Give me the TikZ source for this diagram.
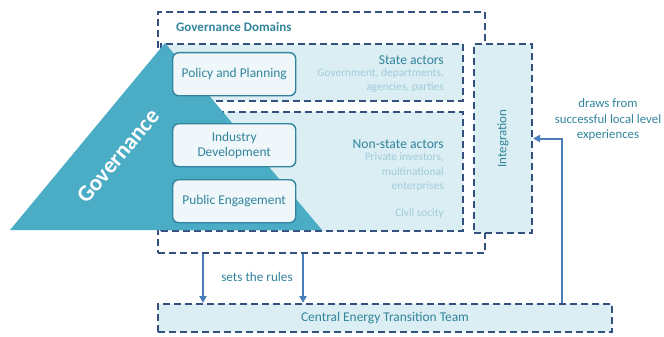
\documentclass[tikz,border=0pt]{standalone}
\usepackage{fontspec}
\setmainfont{Carlito}
\usetikzlibrary{arrows.meta}
\definecolor{dashcol}{HTML}{34507F}
\definecolor{lightfill}{HTML}{DAEEF3}
\definecolor{tealfill}{HTML}{4BACC6}
\definecolor{darkteal}{HTML}{31849B}
\definecolor{lighttext}{HTML}{A3CBDA}
\definecolor{arrblue}{HTML}{4A7EBB}
\definecolor{boxfill}{HTML}{EFF7FA}
\tikzset{
  dbox/.style={draw=dashcol, line width=2pt, dash pattern=on 7pt off 4pt, anchor=north west, inner sep=0pt},
  rbox/.style={draw=darkteal, line width=1.4pt, fill=boxfill, rounded corners=6pt, anchor=north west,
     minimum width=123pt, minimum height=43pt, inner sep=0pt, align=center, text=darkteal, font=\fontsize{13.4}{15}\selectfont},
  arr/.style={draw=arrblue, line width=2pt, -{Triangle[length=7pt,width=7pt]}},
  ttl/.style={text=darkteal, font=\fontsize{13.6}{15}\selectfont, anchor=east, inner sep=0pt},
  sub/.style={text=lighttext, font=\fontsize{11.4}{14.5}\selectfont, anchor=east, inner sep=0pt, align=right},
}
\begin{document}
\begin{tikzpicture}[x=1pt,y=-1pt]
\useasboundingbox (0,0) rectangle (664,337);
% outer box
\node[dbox, minimum width=327pt, minimum height=241pt] (gd) at (157,11) {};
\node[anchor=west, inner sep=0pt, text=darkteal, font=\bfseries\fontsize{13}{14}\selectfont] (gdl) at (176,27) {Governance Domains};
% actor boxes
\node[dbox, fill=lightfill, minimum width=302pt, minimum height=57pt] (sa) at (160,43) {};
\node[dbox, fill=lightfill, minimum width=302pt, minimum height=119pt] (na) at (160,111) {};
% integration
\node[dbox, fill=lightfill, minimum width=58pt, minimum height=189pt] (integ) at (473,43) {};
\node[rotate=90, text=darkteal, font=\fontsize{13}{14}\selectfont] (intl) at (integ.center) {Integration};
% triangle
\fill[tealfill] (10,230) -- (165,43) -- (322,230) -- cycle;
\node[rotate=50, text=white, font=\bfseries\fontsize{23}{26}\selectfont] (gov) at (118,156) {Governance};
% domain boxes
\node[rbox] (pp) at (172,52) {Policy and Planning};
\node[rbox] (id) at (172,123) {Industry\\Development};
\node[rbox] (pe) at (172,179) {Public Engagement};
% texts
\node[ttl] (st) at (444,60) {State actors};
\node[sub] (sts) at (444,80.5) {Government, departments,\\agencies, parties};
\node[ttl] (ns) at (444,144) {Non-state actors};
\node[sub] (nss) at (444,172) {Private investors,\\multinational\\enterprises};
\node[sub] (cs) at (444,213) {Civil socity};
% bottom box
\node[dbox, fill=lightfill, minimum width=454pt, minimum height=28pt] (cet) at (157,303) {};
\node[text=darkteal, font=\fontsize{13.4}{14}\selectfont] (cetl) at (cet.center) {Central Energy Transition Team};
% arrows
\coordinate (a1) at (203,0);
\coordinate (a2) at (303,0);
\coordinate (a3) at (562,0);
\draw[arr] (gd.south -| a1) -- (cet.north -| a1);
\draw[arr] (gd.south -| a2) -- (cet.north -| a2);
\node[text=darkteal, font=\fontsize{13.2}{14}\selectfont] (rules) at (257,277) {sets the rules};
\draw[arr] (cet.north -| a3) |- (integ.east);
\node[text=darkteal, align=center, inner sep=0pt, font=\fontsize{12.8}{15.5}\selectfont] (draws) at (608,120) {draws from\\successful local level\\experiences};
\end{tikzpicture}
\end{document}
